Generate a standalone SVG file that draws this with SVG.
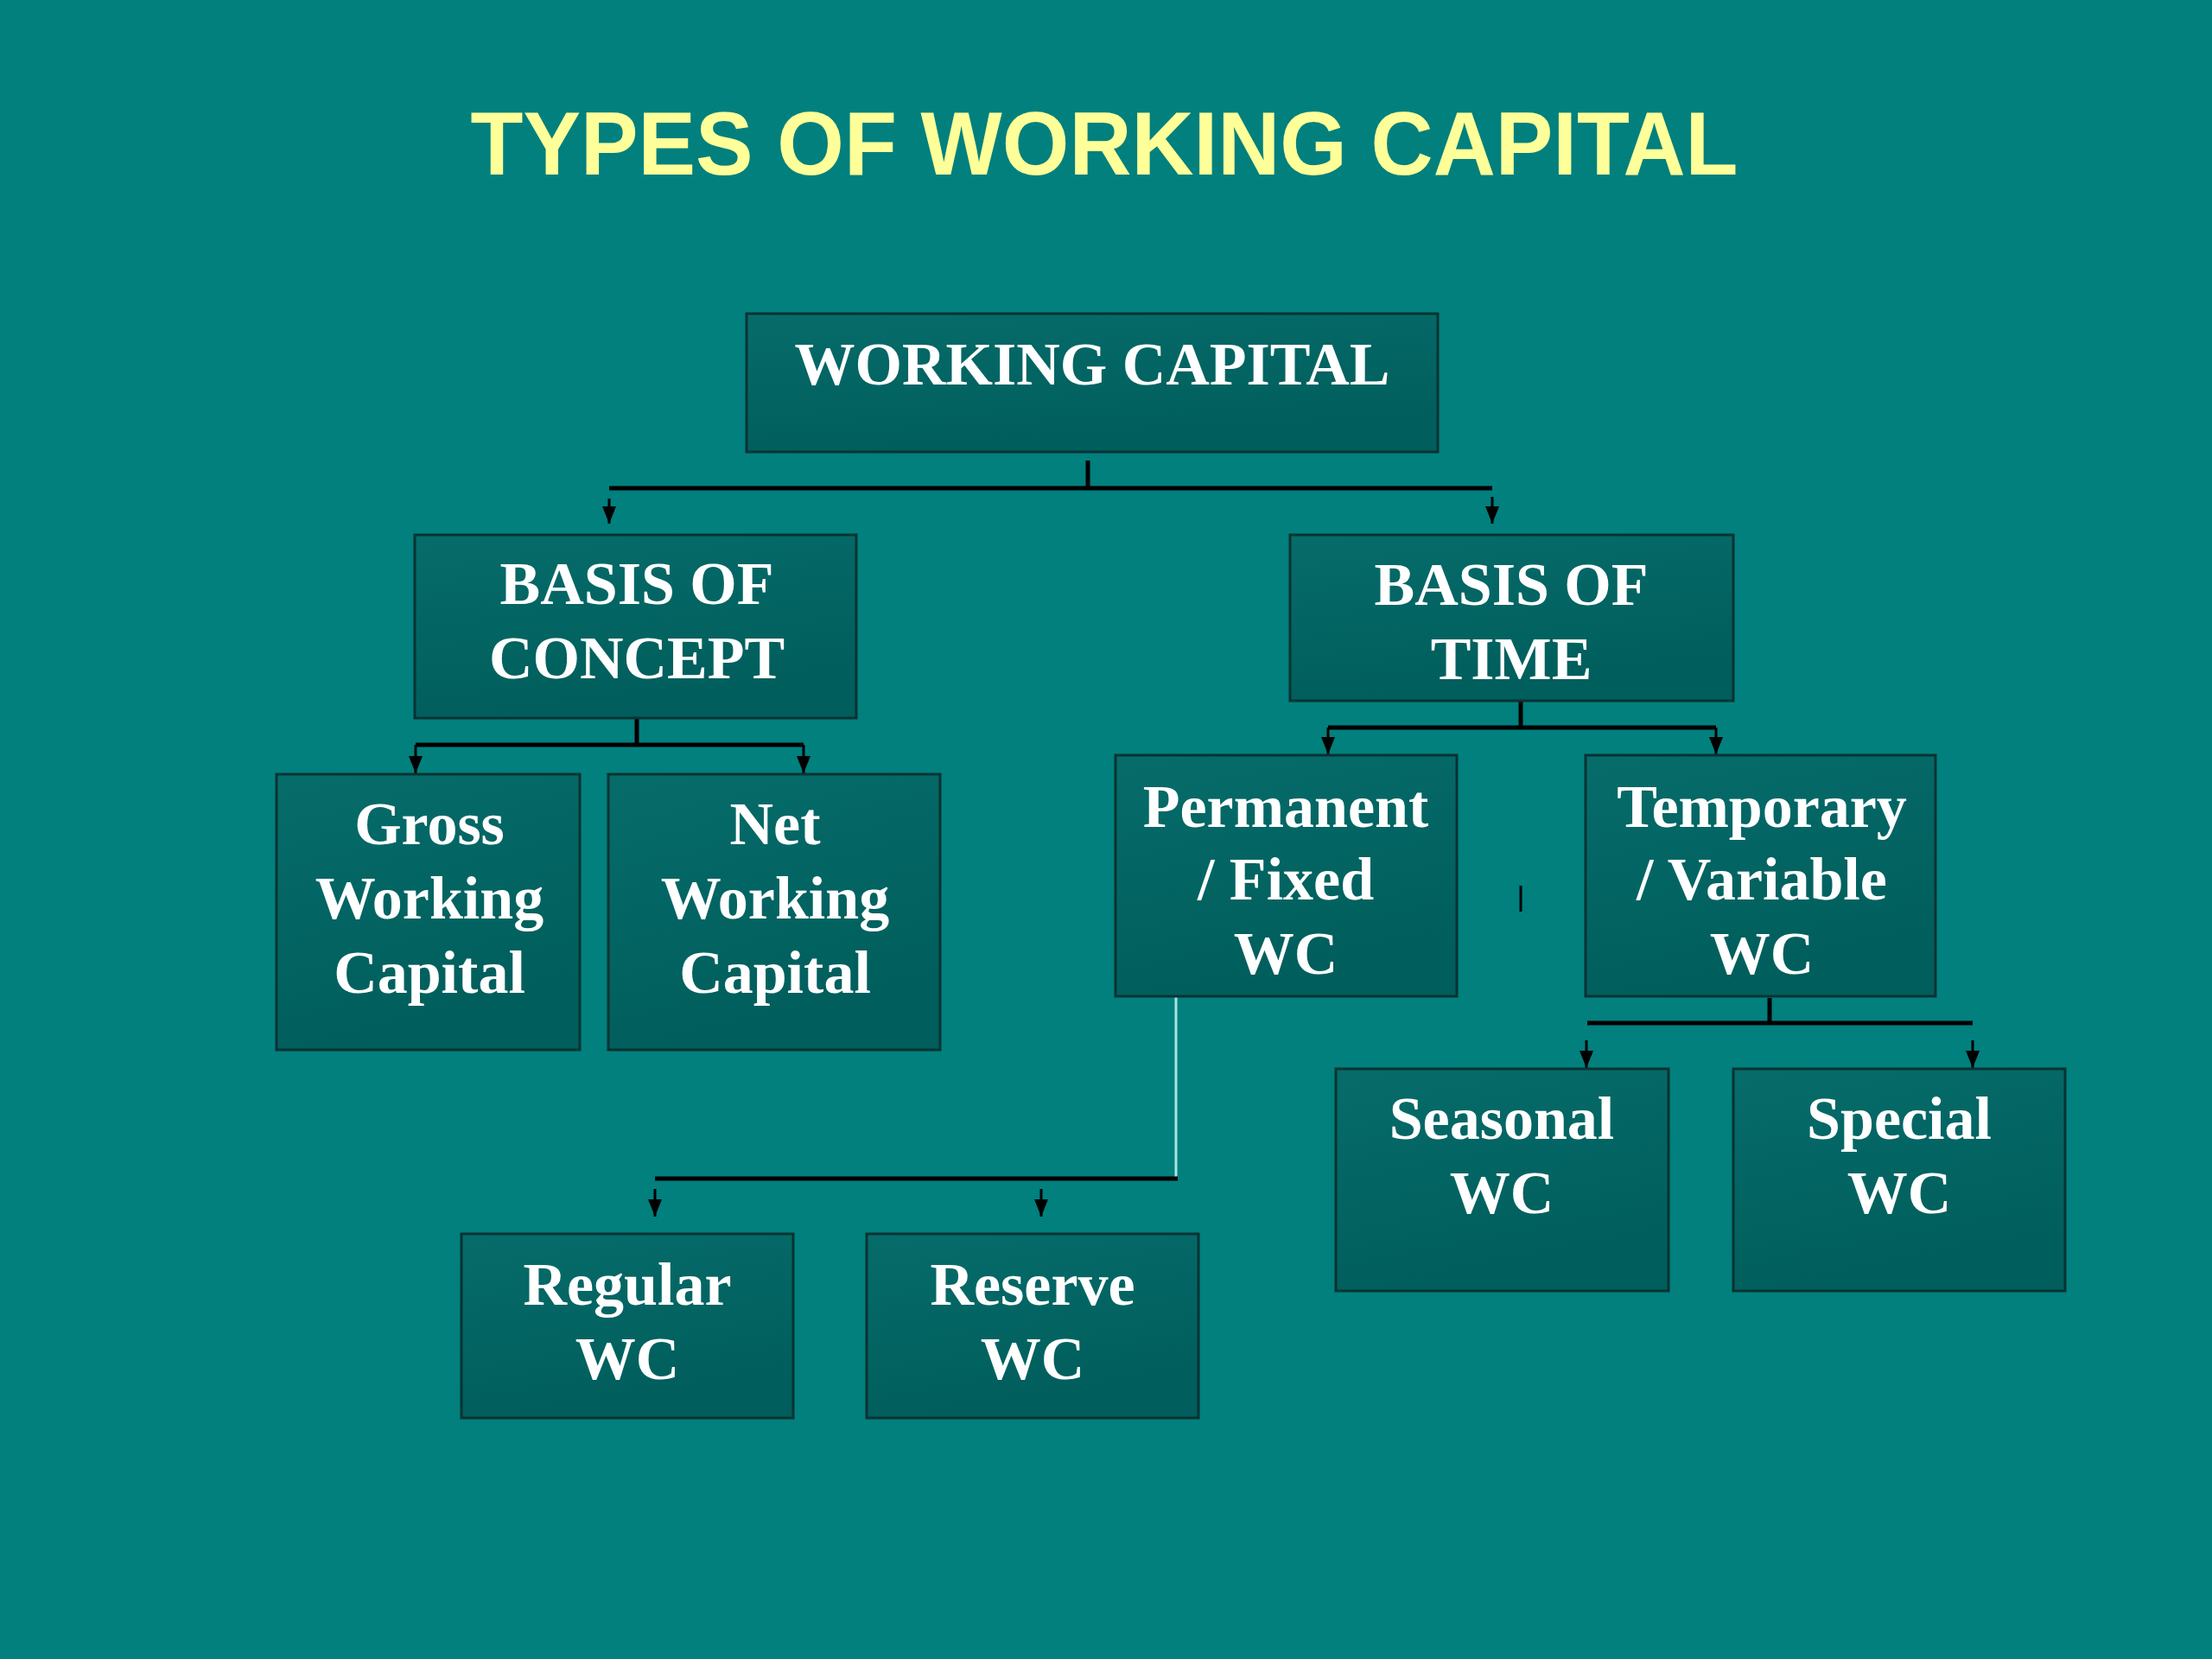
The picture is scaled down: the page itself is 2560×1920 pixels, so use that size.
<svg xmlns="http://www.w3.org/2000/svg" width="2560" height="1920" viewBox="0 0 2560 1920">
<defs>
<linearGradient id="boxg" x1="0" y1="0" x2="0.3" y2="1">
<stop offset="0" stop-color="#066c6a"/>
<stop offset="1" stop-color="#005e5c"/>
</linearGradient>
<marker id="arr" markerUnits="userSpaceOnUse" markerWidth="20" markerHeight="16" viewBox="0 0 20 16" refX="20" refY="8" orient="auto">
<path d="M0,0 L20,8 L0,16 Z" fill="#000"/>
</marker>
<style>
.box{fill:url(#boxg);stroke:#0b3232;stroke-width:3}
.lbl{font-family:"Liberation Serif","Times New Roman",serif;font-weight:bold;font-size:70px;fill:#ffffff;text-anchor:middle}
.ln{stroke:#000;stroke-width:5;fill:none}
.ar{stroke:#000;stroke-width:3;fill:none}
</style>
</defs>
<rect x="0" y="0" width="2560" height="1920" fill="#01807e"/>
<text x="1278" y="202" font-family="'Liberation Sans',Arial,sans-serif" font-weight="bold" font-size="103" fill="#ffff99" text-anchor="middle" textLength="1467" lengthAdjust="spacingAndGlyphs">TYPES OF WORKING CAPITAL</text>

<g id="connectors">
<line class="ln" x1="1259" y1="533" x2="1259" y2="566"/>
<line class="ln" x1="705" y1="565" x2="1727" y2="565"/>
<line class="ar" x1="705" y1="577" x2="705" y2="606" marker-end="url(#arr)"/>
<line class="ar" x1="1727" y1="575" x2="1727" y2="606" marker-end="url(#arr)"/>

<line class="ln" x1="737" y1="832" x2="737" y2="863"/>
<line class="ln" x1="481" y1="862" x2="930" y2="862"/>
<line class="ar" x1="481" y1="862" x2="481" y2="895" marker-end="url(#arr)"/>
<line class="ar" x1="930" y1="862" x2="930" y2="895" marker-end="url(#arr)"/>

<line class="ln" x1="1760" y1="812" x2="1760" y2="843"/>
<line class="ln" x1="1537" y1="842" x2="1986" y2="842"/>
<line class="ar" x1="1537" y1="842" x2="1537" y2="873" marker-end="url(#arr)"/>
<line class="ar" x1="1986" y1="842" x2="1986" y2="873" marker-end="url(#arr)"/>

<line class="ar" x1="1760" y1="1025" x2="1760" y2="1055"/>

<line class="ln" x1="2048" y1="1155" x2="2048" y2="1186"/>
<line class="ln" x1="1837" y1="1184" x2="2283" y2="1184"/>
<line class="ar" x1="1836" y1="1204" x2="1836" y2="1236" marker-end="url(#arr)"/>
<line class="ar" x1="2283" y1="1204" x2="2283" y2="1236" marker-end="url(#arr)"/>

<line x1="1361" y1="1153" x2="1361" y2="1364" stroke="#a8e4e2" stroke-width="3"/>
<line class="ln" x1="758" y1="1364" x2="1363" y2="1364"/>
<line class="ar" x1="758" y1="1376" x2="758" y2="1408" marker-end="url(#arr)"/>
<line class="ar" x1="1205" y1="1376" x2="1205" y2="1408" marker-end="url(#arr)"/>
</g>

<g id="working-capital">
<rect class="box" x="864" y="363" width="800" height="160"/>
<text class="lbl" x="1264" y="445">WORKING CAPITAL</text>
</g>
<g id="basis-concept">
<rect class="box" x="480" y="619" width="511" height="212"/>
<text class="lbl" x="737" y="699">BASIS OF</text>
<text class="lbl" x="737" y="785">CONCEPT</text>
</g>
<g id="basis-time">
<rect class="box" x="1493" y="619" width="513" height="192"/>
<text class="lbl" x="1749" y="700">BASIS OF</text>
<text class="lbl" x="1749" y="786">TIME</text>
</g>
<g id="gross">
<rect class="box" x="320" y="896" width="351" height="319"/>
<text class="lbl" x="497" y="977">Gross</text>
<text class="lbl" x="497" y="1063">Working</text>
<text class="lbl" x="497" y="1149">Capital</text>
</g>
<g id="net">
<rect class="box" x="704" y="896" width="384" height="319"/>
<text class="lbl" x="897" y="977">Net</text>
<text class="lbl" x="897" y="1063">Working</text>
<text class="lbl" x="897" y="1149">Capital</text>
</g>
<g id="permanent">
<rect class="box" x="1291" y="874" width="395" height="279"/>
<text class="lbl" x="1488" y="957">Permanent</text>
<text class="lbl" x="1488" y="1041">/ Fixed</text>
<text class="lbl" x="1488" y="1127">WC</text>
</g>
<g id="temporary">
<rect class="box" x="1835" y="874" width="405" height="279"/>
<text class="lbl" x="2039" y="957">Temporary</text>
<text class="lbl" x="2039" y="1041">/ Variable</text>
<text class="lbl" x="2039" y="1127">WC</text>
</g>
<g id="seasonal">
<rect class="box" x="1546" y="1237" width="385" height="257"/>
<text class="lbl" x="1738" y="1318">Seasonal</text>
<text class="lbl" x="1738" y="1404">WC</text>
</g>
<g id="special">
<rect class="box" x="2006" y="1237" width="384" height="257"/>
<text class="lbl" x="2198" y="1318">Special</text>
<text class="lbl" x="2198" y="1404">WC</text>
</g>
<g id="regular">
<rect class="box" x="534" y="1428" width="384" height="213"/>
<text class="lbl" x="726" y="1510">Regular</text>
<text class="lbl" x="726" y="1596">WC</text>
</g>
<g id="reserve">
<rect class="box" x="1003" y="1428" width="384" height="213"/>
<text class="lbl" x="1195" y="1510">Reserve</text>
<text class="lbl" x="1195" y="1596">WC</text>
</g>
</svg>
